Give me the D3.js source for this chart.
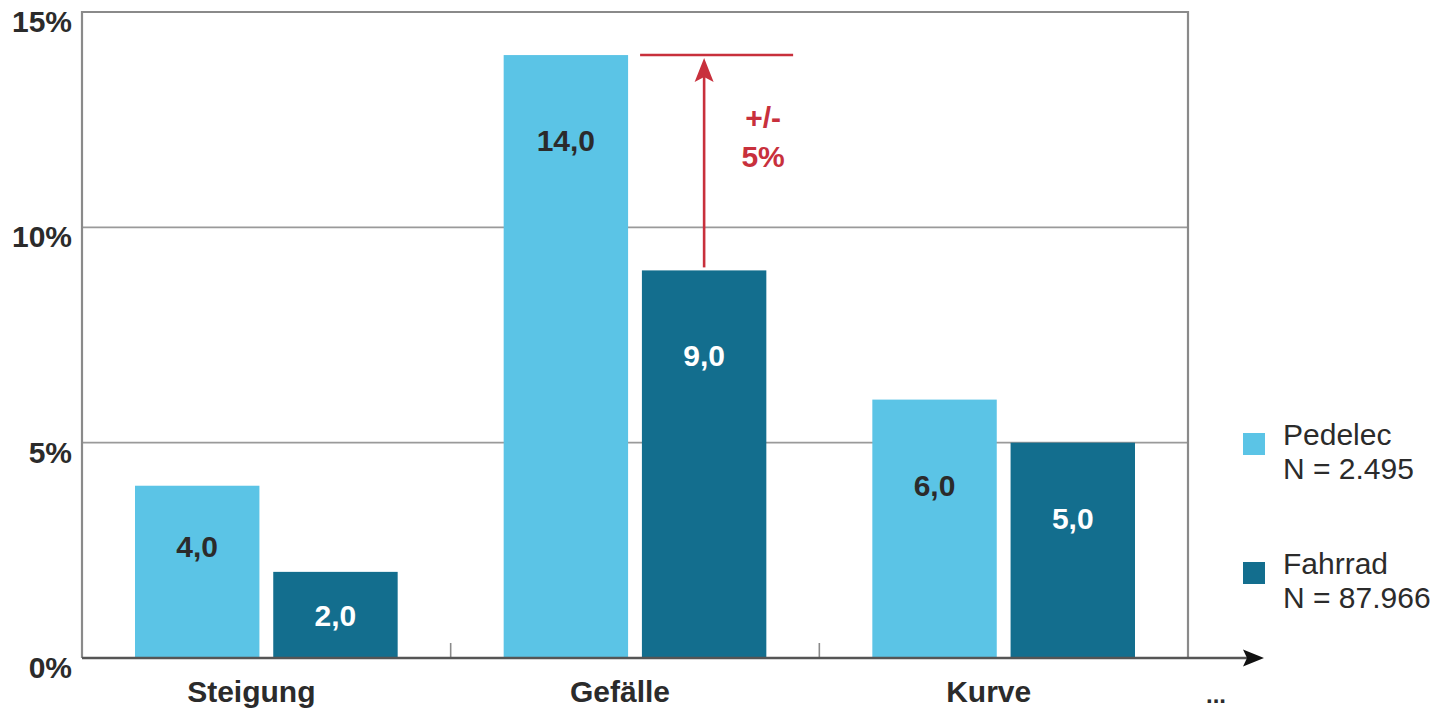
<!DOCTYPE html>
<html lang="de">
<head>
<meta charset="utf-8">
<script src="https://cdn.jsdelivr.net/npm/d3@7"></script>
<style>
  html, body { margin: 0; padding: 0; background: #fff; }
  svg { display: block; font-family: "Liberation Sans", Arial, sans-serif; }
</style>
</head>
<body>
<svg id="chart" width="1437" height="711"></svg>
<script>
// Anteil der Unfälle je Streckenmerkmal (in %)
const categories = ["Steigung", "Gefälle", "Kurve"];
const seriesNames = ["Pedelec", "Fahrrad"];
const seriesCounts = ["N = 2.495", "N = 87.966"];
const pedelecValues = [4.0, 14.0, 6.0];
const fahrradValues = [2.0, 9.0, 5.0];
const yTickValues = [0, 5, 10, 15];
const yMax = 15;
const annotationLines = ["+/-", "5%"];
const moreLabel = "...";

const colors = { Pedelec: "#5bc4e6", Fahrrad: "#136e8e" };
const labelColors = { Pedelec: "#2b2b2b", Fahrrad: "#ffffff" };
const red = "#c8303c";
const fontSize = 30;

const svg = d3.select("#chart");
const plot = { left: 82, right: 1188, top: 12, bottom: 658 };

const de = d3.formatLocale({ decimal: ",", thousands: ".", grouping: [3], currency: ["", " €"] });
const fmt = de.format(".1f");

const x0 = d3.scaleBand().domain(categories).range([plot.left, plot.right]).padding(0);
const x1 = d3.scaleBand().domain(seriesNames).range([53, x0.bandwidth() - 53]).paddingInner(0.1);
const y = d3.scaleLinear().domain([0, yMax]).range([plot.bottom, plot.top]);

const rows = categories.map((c, i) => ({
  category: c,
  values: [
    { series: "Pedelec", value: pedelecValues[i] },
    { series: "Fahrrad", value: fahrradValues[i] }
  ]
}));

// horizontal grid lines
svg.append("g")
  .selectAll("line")
  .data(yTickValues.filter(v => v > 0 && v < yMax))
  .join("line")
  .attr("x1", plot.left).attr("x2", plot.right)
  .attr("y1", d => y(d)).attr("y2", d => y(d))
  .attr("stroke", "#9a9a9a").attr("stroke-width", 1.6);

// frame: left, top, right
svg.append("path")
  .attr("d", `M${plot.left},${plot.bottom}V${plot.top}H${plot.right}V${plot.bottom}`)
  .attr("fill", "none").attr("stroke", "#8a8a8a").attr("stroke-width", 2.2);

// category separators
svg.append("g")
  .selectAll("line")
  .data(categories.slice(1))
  .join("line")
  .attr("x1", d => x0(d)).attr("x2", d => x0(d))
  .attr("y1", plot.bottom - 15).attr("y2", plot.bottom)
  .attr("stroke", "#8a8a8a").attr("stroke-width", 1.6);

// bars
const groups = svg.append("g")
  .selectAll("g")
  .data(rows)
  .join("g")
  .attr("transform", d => `translate(${x0(d.category)},0)`);

groups.selectAll("rect")
  .data(d => d.values)
  .join("rect")
  .attr("x", d => x1(d.series))
  .attr("width", x1.bandwidth())
  .attr("y", d => y(d.value))
  .attr("height", d => y(0) - y(d.value))
  .attr("fill", d => colors[d.series]);

// value labels inside the bars
function labelOffset(h) {
  return h < 100 ? h / 2 : Math.min(85, h * 0.35);
}
groups.selectAll("text")
  .data(d => d.values)
  .join("text")
  .attr("x", d => x1(d.series) + x1.bandwidth() / 2)
  .attr("y", d => y(d.value) + labelOffset(y(0) - y(d.value)) + 11)
  .attr("text-anchor", "middle")
  .attr("font-size", fontSize).attr("font-weight", "bold")
  .attr("fill", d => labelColors[d.series])
  .text(d => fmt(d.value));

// x axis with arrow
svg.append("line")
  .attr("x1", plot.left).attr("x2", 1248)
  .attr("y1", plot.bottom).attr("y2", plot.bottom)
  .attr("stroke", "#555").attr("stroke-width", 2.6);
svg.append("path")
  .attr("d", `M1264,${plot.bottom}L1243,${plot.bottom - 8.5}L1247,${plot.bottom}L1243,${plot.bottom + 8.5}Z`)
  .attr("fill", "#111");

// y tick labels
svg.append("g")
  .selectAll("text")
  .data(yTickValues)
  .join("text")
  .attr("x", 72)
  .attr("y", d => y(d) + 20)
  .attr("text-anchor", "end")
  .attr("font-size", fontSize).attr("font-weight", "bold")
  .attr("fill", "#2b2b2b")
  .text(d => d + "%");

// category labels
svg.append("g")
  .selectAll("text")
  .data(categories)
  .join("text")
  .attr("x", d => x0(d) + x0.bandwidth() / 2 - 15)
  .attr("y", 702)
  .attr("text-anchor", "middle")
  .attr("font-size", fontSize).attr("font-weight", "bold")
  .attr("fill", "#2b2b2b")
  .text(d => d);

svg.append("text")
  .attr("x", 1216).attr("y", 703)
  .attr("text-anchor", "middle")
  .attr("font-size", 24).attr("font-weight", "bold")
  .attr("fill", "#2b2b2b")
  .text(moreLabel);

// difference annotation on the Gefälle group
const gi = categories.indexOf("Gefälle");
const topVal = pedelecValues[gi];
const lowVal = fahrradValues[gi];
const ax = x0("Gefälle") + x1("Fahrrad") + x1.bandwidth() / 2;
const lineStart = x0("Gefälle") + x1("Pedelec") + x1.bandwidth() + 12;
const ann = svg.append("g");
ann.append("line")
  .attr("x1", lineStart).attr("x2", ax + 89)
  .attr("y1", y(topVal)).attr("y2", y(topVal))
  .attr("stroke", red).attr("stroke-width", 2.6);
ann.append("line")
  .attr("x1", ax).attr("x2", ax)
  .attr("y1", y(lowVal) - 3).attr("y2", y(topVal) + 20)
  .attr("stroke", red).attr("stroke-width", 2.6);
ann.append("path")
  .attr("d", `M${ax},${y(topVal) + 3}L${ax - 9.5},${y(topVal) + 27}L${ax},${y(topVal) + 22}L${ax + 9.5},${y(topVal) + 27}Z`)
  .attr("fill", red);
ann.selectAll("text")
  .data(annotationLines)
  .join("text")
  .attr("x", ax + 59)
  .attr("y", (d, i) => 128 + i * 39)
  .attr("text-anchor", "middle")
  .attr("font-size", fontSize).attr("font-weight", "bold")
  .attr("fill", red)
  .text(d => d);

// legend
const legend = svg.append("g")
  .selectAll("g")
  .data(seriesNames)
  .join("g")
  .attr("transform", (d, i) => `translate(1243,${433 + i * 129})`);
legend.append("rect")
  .attr("width", 22).attr("height", 22)
  .attr("fill", d => colors[d]);
legend.append("text")
  .attr("x", 40).attr("y", 12)
  .attr("font-size", fontSize).attr("fill", "#2b2b2b")
  .text(d => d);
legend.append("text")
  .attr("x", 40).attr("y", 46)
  .attr("font-size", fontSize).attr("fill", "#2b2b2b")
  .text((d, i) => seriesCounts[i]);
</script>
</body>
</html>
